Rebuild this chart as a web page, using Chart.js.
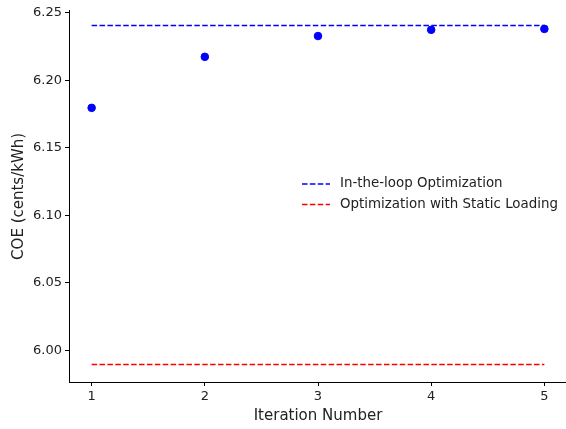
<!DOCTYPE html>
<html>
<head>
<meta charset="utf-8">
<script src="https://cdn.jsdelivr.net/npm/chart.js@4"></script>
<style>
  html, body { margin: 0; padding: 0; background: #fff; overflow: hidden; }
  #wrap { width: 572px; height: 429px; }
</style>
</head>
<body>
<div id="wrap"><canvas id="coe-chart"></canvas></div>
<script>
// iteration results
const iterations = [1, 2, 3, 4, 5];
const coeValues = [6.1796, 6.2174, 6.2328, 6.2374, 6.2381];

// reference levels
const inLoopCoe = 6.2406;
const staticCoe = 5.9894;

const xTicks = [1, 2, 3, 4, 5];
const yTicks = [6.00, 6.05, 6.10, 6.15, 6.20, 6.25];

const legendItems = [
  { label: 'In-the-loop Optimization', color: '#0000ff' },
  { label: 'Optimization with Static Loading', color: '#ff0000' }
];

const fontFamily = '"DejaVu Sans", sans-serif';
const textColor = '#222';

// legend drawn inside the plot area, right of centre
const innerLegend = {
  id: 'innerLegend',
  afterDraw(chart) {
    const ctx = chart.ctx;
    ctx.save();
    ctx.font = '13.4px ' + fontFamily;
    ctx.textBaseline = 'middle';
    legendItems.forEach((item, i) => {
      const y = 184 + i * 20.5;
      ctx.strokeStyle = item.color;
      ctx.lineWidth = 1.5;
      ctx.setLineDash([5.5, 2.4]);
      ctx.beginPath();
      ctx.moveTo(302, y);
      ctx.lineTo(330, y);
      ctx.stroke();
      ctx.setLineDash([]);
      ctx.fillStyle = textColor;
      ctx.fillText(item.label, 340, y);
    });
    ctx.restore();
  }
};

const flatLine = (value) => [
  { x: iterations[0], y: value },
  { x: iterations[iterations.length - 1], y: value }
];

new Chart(document.getElementById('coe-chart'), {
  type: 'scatter',
  data: {
    datasets: [
      {
        label: 'COE',
        data: iterations.map((x, i) => ({ x: x, y: coeValues[i] })),
        backgroundColor: '#0000ff',
        borderColor: '#0000ff',
        pointRadius: 3.8,
        showLine: false
      },
      {
        label: legendItems[0].label,
        data: flatLine(inLoopCoe),
        borderColor: '#0000ff',
        borderWidth: 1.5,
        borderDash: [5.5, 2.4],
        pointRadius: 0,
        showLine: true
      },
      {
        label: legendItems[1].label,
        data: flatLine(staticCoe),
        borderColor: '#ff0000',
        borderWidth: 1.5,
        borderDash: [5.5, 2.4],
        pointRadius: 0,
        showLine: true
      }
    ]
  },
  options: {
    responsive: true,
    maintainAspectRatio: false,
    animation: false,
    layout: { padding: { top: 9, right: 0, left: 0, bottom: 0 } },
    plugins: {
      legend: { display: false },
      tooltip: { enabled: false }
    },
    scales: {
      x: {
        type: 'linear',
        min: 0.8,
        max: 5.2,
        afterBuildTicks: (scale) => { scale.ticks = xTicks.map(v => ({ value: v })); },
        afterFit: (scale) => { scale.height = 47; },
        border: { display: true, color: '#000', width: 1 },
        grid: { drawOnChartArea: false, drawTicks: true, tickLength: 4, color: '#000' },
        ticks: {
          color: textColor,
          padding: 3,
          font: { family: fontFamily, size: 13 },
          callback: (v) => String(v)
        },
        title: {
          display: true,
          text: 'Iteration Number',
          color: textColor,
          padding: { top: 2, bottom: 4 },
          font: { family: fontFamily, size: 15 }
        }
      },
      y: {
        min: 5.9765,
        max: 6.2515,
        afterBuildTicks: (scale) => { scale.ticks = yTicks.map(v => ({ value: v })); },
        afterFit: (scale) => { scale.width = 69; },
        border: { display: true, color: '#000', width: 1 },
        grid: { drawOnChartArea: false, drawTicks: true, tickLength: 4, color: '#000' },
        ticks: {
          color: textColor,
          padding: 3,
          font: { family: fontFamily, size: 13 },
          callback: (v) => v.toFixed(2)
        },
        title: {
          display: true,
          text: 'COE (cents/kWh)',
          color: textColor,
          padding: { top: 10, bottom: 6 },
          font: { family: fontFamily, size: 15 }
        }
      }
    }
  },
  plugins: [innerLegend]
});
</script>
</body>
</html>
